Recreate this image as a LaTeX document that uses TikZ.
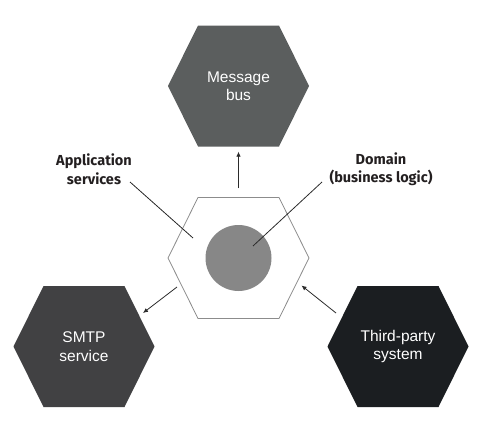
\documentclass[tikz,border=0pt]{standalone}
\usepackage{fontspec}
\setmainfont{Liberation Sans}
\newfontfamily\labelfont{Fira Sans}
\usetikzlibrary{arrows.meta}
\definecolor{mbgray}{HTML}{5B5E5E}
\definecolor{smtpgray}{HTML}{414143}
\definecolor{tpblack}{HTML}{1B1E21}
\definecolor{circgray}{HTML}{878787}
\definecolor{hexline}{HTML}{8C8C8C}
\definecolor{inkline}{HTML}{2B2B2B}
\definecolor{labelink}{HTML}{231F20}
\newcommand\hexoutline[1]{([shift={(-40.5,-60.5)}]#1.center) -- ([shift={(40.5,-60.5)}]#1.center) -- ([shift={(70.5,0)}]#1.center) -- ([shift={(40.5,60.5)}]#1.center) -- ([shift={(-40.5,60.5)}]#1.center) -- ([shift={(-70.5,0)}]#1.center) -- cycle}
\begin{document}
\begin{tikzpicture}[x=1pt,y=-1pt,
  hexbox/.style={minimum width=141pt,minimum height=121pt,inner sep=0pt,align=center,
    text=white,font=\fontsize{15.5}{18.5}\selectfont},
  lbl/.style={align=center,text=labelink,font=\labelfont\bfseries\fontsize{14.5}{18.5}\selectfont},
  conn/.style={draw=inkline,line width=0.8pt},
  arr/.style={conn,-{Latex[length=5pt,width=4.5pt]}}]
\useasboundingbox (0,0) rectangle (485,431);
% hexagon nodes
\node[hexbox] (mb) at (238.5,86) {};
\node[hexbox] (ch) at (238.5,258) {};
\node[hexbox] (smtp) at (84,346.5) {};
\node[hexbox] (tp) at (398,346.5) {};
\fill[mbgray] \hexoutline{mb};
\fill[smtpgray] \hexoutline{smtp};
\fill[tpblack] \hexoutline{tp};
\draw[hexline,line width=0.8pt] \hexoutline{ch};
\node[circle,fill=circgray,minimum size=66pt,inner sep=0pt] (dom) at (ch.center) {};
\node[hexbox] at (mb.center) {Message\\bus};
\node[hexbox] at (smtp.center) {SMTP\\service};
\node[hexbox] at (tp.center) {Third-party\\system};
% labels
\node[lbl] (app) at (94,169) {Application\\services};
\node[lbl] (domlbl) at (381,169) {Domain\\(business logic)};
% connectors
\coordinate (append) at ([shift={(-45.5,-20)}]ch.center);
\coordinate (appstart) at ([shift={(36,13)}]app.center);
\draw[conn] (appstart) -- (append);
\coordinate (domend) at ([shift={(14.5,-12)}]dom.center);
\coordinate (domstart) at ([shift={(-59,13)}]domlbl.center);
\draw[conn] (domstart) -- (domend);
\draw[arr,shorten <=9pt,shorten >=5pt] (ch.north) -- (mb.south);
\coordinate (s1) at ([shift={(-61.5,29)}]ch.center);
\coordinate (s2) at ([shift={(59,-33.5)}]smtp.center);
\draw[arr] (s1) -- (s2);
\coordinate (t1) at ([shift={(-62,-33.5)}]tp.center);
\coordinate (t2) at ([shift={(63,27.5)}]ch.center);
\draw[arr] (t1) -- (t2);
\end{tikzpicture}
\end{document}
